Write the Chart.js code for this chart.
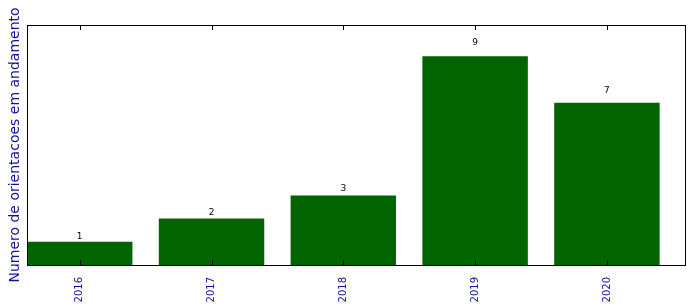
<!DOCTYPE html>
<html><head><meta charset="utf-8">
<script src="https://cdn.jsdelivr.net/npm/chart.js@4/dist/chart.umd.min.js"></script>
<style>html,body{margin:0;padding:0;background:#fff}#wrap{width:696px;height:308px}</style>
</head><body><div id="wrap"><canvas id="c" width="696" height="308"></canvas></div>
<script>
const categories = ['2016', '2017', '2018', '2019', '2020'];
const counts = [1, 2, 3, 9, 7];
const yTitle = 'Numero de orientacoes em andamento';
const yMax = 10.35;

const points = counts.map((v, i) => ({x: i + 0.4, y: v}));
const tickValues = categories.map((c, i) => i + 0.4);
const FONT = "'DejaVu Sans', sans-serif";
const BLUE = '#10109a';

const framePlugin = {
  id: 'frame',
  afterDatasetsDraw(chart) {
    const {ctx, chartArea: a, scales} = chart;
    ctx.save();
    ctx.font = "9px " + FONT;
    ctx.fillStyle = '#000';
    ctx.textAlign = 'center';
    ctx.textBaseline = 'bottom';
    points.forEach(p => {
      ctx.fillText(String(p.y), scales.x.getPixelForValue(p.x), scales.y.getPixelForValue(p.y * 1.05) + 1);
    });
    ctx.strokeStyle = '#000';
    ctx.lineWidth = 1;
    ctx.strokeRect(Math.round(a.left) + 0.5, Math.round(a.top) + 0.5, Math.round(a.right - a.left) - 1, Math.round(a.bottom - a.top));
    tickValues.forEach(v => {
      const x = Math.round(scales.x.getPixelForValue(v)) + 0.5;
      ctx.beginPath();
      ctx.moveTo(x, a.bottom); ctx.lineTo(x, a.bottom - 5);
      ctx.moveTo(x, a.top); ctx.lineTo(x, a.top + 5);
      ctx.stroke();
    });
    ctx.restore();
  }
};

new Chart(document.getElementById('c'), {
  type: 'bar',
  data: {
    datasets: [{
      data: points,
      backgroundColor: '#006400',
      borderWidth: 0,
      barPercentage: 0.8,
      categoryPercentage: 1.0
    }]
  },
  options: {
    responsive: false,
    animation: false,
    layout: {padding: {top: 25, right: 10, left: 0, bottom: 0}},
    plugins: {legend: {display: false}, tooltip: {enabled: false}},
    scales: {
      x: {
        type: 'linear',
        min: 0, max: 5,
        offset: false,
        grid: {display: false},
        border: {display: false},
        afterBuildTicks(scale) { scale.ticks = tickValues.map(v => ({value: v})); },
        afterFit(scale) { scale.height = 43; },
        ticks: {
          autoSkip: false,
          maxRotation: 90, minRotation: 90,
          color: BLUE,
          padding: 4,
          font: {family: FONT, size: 10},
          callback(value) {
            const i = tickValues.findIndex(t => Math.abs(t - value) < 1e-6);
            return i >= 0 ? categories[i] : '';
          }
        }
      },
      y: {
        min: 0, max: yMax,
        grid: {display: false},
        border: {display: false},
        ticks: {display: false},
        afterFit(scale) { scale.width = 27; },
        title: {
          display: true,
          text: yTitle,
          color: BLUE,
          font: {family: FONT, size: 14},
          padding: {top: 7, bottom: 0}
        }
      }
    }
  },
  plugins: [framePlugin]
});
</script>
</body></html>
